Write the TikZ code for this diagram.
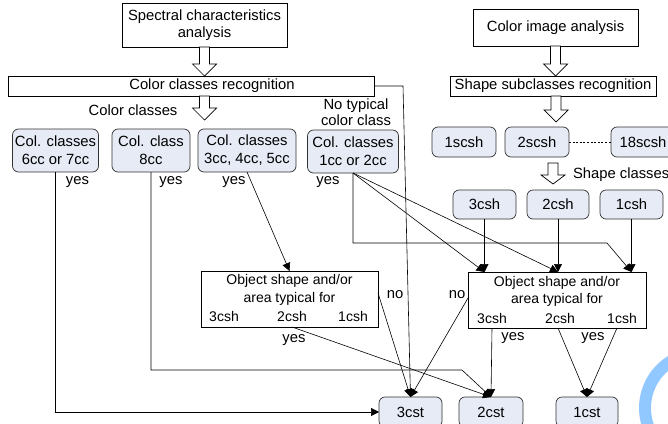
\documentclass[tikz,border=0pt]{standalone}
\usepackage{fontspec}
\setmainfont{Liberation Sans}
\usetikzlibrary{arrows.meta,calc}
\definecolor{nodefill}{RGB}{230,235,246}
\definecolor{nodeline}{RGB}{50,50,50}
\definecolor{arcblue}{RGB}{145,200,255}
\newcommand{\hollowarr}[3]{%
  \draw[harrowst] let \p1=(#1), \p2=(#2) in
    (\x1-5pt,\y1) -- (\x1+5pt,\y1) -- (\x1+5pt,\y2+#3) -- (\x1+12pt,\y2+#3)
    -- (\x1,\y2) -- (\x1-12pt,\y2+#3) -- (\x1-5pt,\y2+#3) -- cycle;}
\begin{document}
\begin{tikzpicture}[x=1pt,y=-1pt,
  every node/.style={inner sep=0pt, outer sep=0pt, font=\fontsize{14.8}{17.5}\selectfont},
  sbox/.style={draw=black, line width=0.7pt, fill=white, align=center},
  rbox/.style={draw=nodeline, line width=0.7pt, fill=nodefill, rounded corners=6pt,
               align=center, font=\fontsize{14.8}{18}\selectfont},
  small/.style={font=\fontsize{14}{17}\selectfont},
  conn/.style={draw=black, line width=0.6pt},
  arr/.style={conn, -{Triangle[length=8pt,width=8pt]}},
  harrowst/.style={draw=black, line width=0.7pt, fill=white},
]
\clip (0,0) rectangle (668,423);
\fill[white] (0,0) rectangle (668,423);

% blue arc (partially visible)
\draw[arcblue, line width=12pt] (700,408) ++(140:55) arc[start angle=140, end angle=250, radius=55];

% left column boxes
\node[sbox, minimum width=165, minimum height=44] (spec) at (204.5,25) {Spectral characteristics\\analysis};
\node[sbox, minimum width=366, minimum height=20] (ccr) at (191,86) {};
\node (ccrt) at (212,86) {Color classes recognition};
\node (cclbl) at (133,110) {Color classes};
\node[align=center, font=\fontsize{14.8}{16}\selectfont] (ntc) at (356,112) {No typical\\color class};

\node[rbox, minimum width=86, minimum height=43] (A) at (55.5,150.5) {Col. classes\\6cc or 7cc};
\node[rbox, minimum width=78, minimum height=43] (B) at (151,150.5) {Col. class\\8cc};
\node[rbox, minimum width=98, minimum height=43] (C) at (247,150.5) {Col. classes\\3cc, 4cc, 5cc};
\node[rbox, minimum width=91, minimum height=43] (D) at (353,151.5) {Col. classes\\1cc or 2cc};

\node (yA) at (77.5,182) {yes};
\node (yB) at (171,182) {yes};
\node (yC) at (234,182) {yes};
\node (yD) at (328,182) {yes};

% right column boxes
\node[sbox, minimum width=165, minimum height=37] (cia) at (555.5,27.5) {Color image analysis};
\node[sbox, minimum width=206, minimum height=20] (ssr) at (553,86) {Shape subclasses recognition};

\node[rbox, minimum width=64, minimum height=30] (s1) at (464,142) {1scsh};
\node[rbox, minimum width=64, minimum height=30] (s2) at (537,142) {2scsh};
\node[rbox, minimum width=64, minimum height=30] (s18) at (643,142) {18scsh};
\node[anchor=west] (shc) at (573,175) {Shape classes};

\node[rbox, minimum width=63, minimum height=29] (c3) at (484.5,204.5) {3csh};
\node[rbox, minimum width=62, minimum height=29] (c2) at (558,204.5) {2csh};
\node[rbox, minimum width=63, minimum height=29] (c1) at (631.5,204.5) {1csh};

% object shape boxes
\node[sbox, minimum width=177, minimum height=56] (obj1) at (289.5,299) {};
\node[small] (o1l1) at (289.5,281) {Object shape and/or};
\node[small] (o1l2) at (289.5,299) {area typical for};
\node[small] (o1a) at (224,316) {3csh};
\node[small] (o1b) at (292,316) {2csh};
\node[small] (o1c) at (353,316) {1csh};

\node[sbox, minimum width=178, minimum height=56] (obj2) at (557,300) {};
\node[small] (o2l1) at (557,283) {Object shape and/or};
\node[small] (o2l2) at (557,300) {area typical for};
\node[small] (o2a) at (492,318) {3csh};
\node[small] (o2b) at (560,318) {2csh};
\node[small] (o2c) at (622,318) {1csh};

\node (yO1) at (294,340) {yes};
\node (no1) at (395,295) {no};
\node (no2) at (457,295) {no};
\node (yO2a) at (513,338) {yes};
\node (yO2b) at (593,338) {yes};

% target nodes
\node[rbox, minimum width=63, minimum height=30] (t3) at (410.5,412) {3cst};
\node[rbox, minimum width=64, minimum height=30] (t2) at (491,412) {2cst};
\node[rbox, minimum width=62, minimum height=30] (t1) at (587,412) {1cst};

% hollow arrows
\coordinate (ha2e) at (205,120);
\coordinate (ha4e) at (556,122);
\coordinate (ha5s) at (553,163);
\coordinate (ha5e) at (553,184);
\hollowarr{spec.south}{ccr.north}{12pt}
\hollowarr{spec.south |- ccr.south}{ha2e}{12pt}
\hollowarr{cia.south}{ssr.north}{12pt}
\hollowarr{ha4e |- ssr.south}{ha4e}{12pt}
\hollowarr{ha5s}{ha5e}{9pt}

% dotted link
\draw[conn, dash pattern=on 2pt off 1.6pt] (s2.east) -- (s18.west);

% connectors
\coordinate (ntk) at (403,86);
\coordinate (bk) at (462,370);
\coordinate (dk) at (607,243);
\draw[arr] (A.south) |- (t3.west);
\draw[arr] (B.south) |- (bk) -- (t2.north);
\draw[arr] (C.south) -- (obj1.north);
\draw[arr] (ccr.east) -- (ntk) -- (t3.north);
\draw[arr] (D.south) -- (obj2.north -| c3.south);
\draw[arr] (D.south) -- (obj2.north -| c2.south);
\draw[arr] (D.south) |- (dk) -- (obj2.north -| c1.south);
\draw[arr] (c3.south) -- (obj2.north -| c3.south);
\draw[arr] (c2.south) -- (obj2.north -| c2.south);
\draw[arr] (c1.south) -- (obj2.north -| c1.south);
\draw[arr] ([yshift=6pt]obj1.east) -- (t3.north);
\draw[arr] ([yshift=2pt]obj2.west) -- (t3.north);
\draw[arr] (o1b.south |- obj1.south) -- (t2.north);
\draw[arr] (o2a.south |- obj2.south) -- (t2.north);
\draw[arr] ([xshift=-2pt]o2b.south |- obj2.south) -- (t1.north);
\draw[arr] ([xshift=-5pt]o2c.south |- obj2.south) -- (t1.north);
\end{tikzpicture}
\end{document}
